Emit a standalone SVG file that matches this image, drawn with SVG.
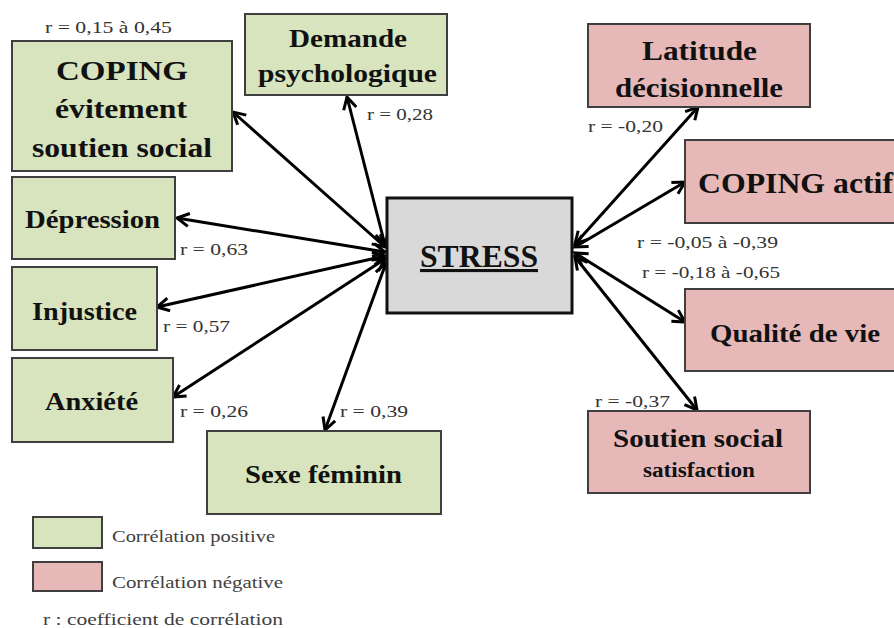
<svg xmlns="http://www.w3.org/2000/svg" width="894" height="628" viewBox="0 0 894 628">
<style>
.pos{fill:#d7e4bd;stroke:#3f3f3f;stroke-width:2}
.neg{fill:#e6b9b8;stroke:#3f3f3f;stroke-width:2}
.ctr{fill:#d9d9d9;stroke:#111;stroke-width:3}
.nt{font-family:"Liberation Serif","Times New Roman",serif;font-weight:bold;fill:#111}
.lb{font-family:"Liberation Serif","Times New Roman",serif;font-size:17px;fill:#333}
.lg{font-family:"Liberation Serif","Times New Roman",serif;font-size:17px;fill:#404040}
.cn{stroke:#000;stroke-width:3;fill:none;marker-start:url(#ah);marker-end:url(#ah)}
</style>
<defs>
<marker id="ah" markerUnits="userSpaceOnUse" markerWidth="16" markerHeight="16" viewBox="0 0 16 16" refX="13" refY="8" orient="auto-start-reverse">
<path d="M1,1.5 L13,8 L1,14.5" fill="none" stroke="#000" stroke-width="3"/>
</marker>
</defs>
<rect width="894" height="628" fill="#fff"/>

<g id="connectors">
<line class="cn" x1="385" y1="247" x2="233" y2="112"/>
<line class="cn" x1="385" y1="245" x2="347" y2="97"/>
<line class="cn" x1="385" y1="252" x2="177" y2="218"/>
<line class="cn" x1="385" y1="256" x2="157" y2="307"/>
<line class="cn" x1="385" y1="259" x2="173" y2="397"/>
<line class="cn" x1="386" y1="263" x2="325" y2="430"/>
<line class="cn" x1="575" y1="244" x2="698" y2="107"/>
<line class="cn" x1="575" y1="247" x2="685" y2="182"/>
<line class="cn" x1="575" y1="253" x2="685" y2="322"/>
<line class="cn" x1="575" y1="257" x2="697" y2="410"/>
</g>

<g id="stress">
<rect class="ctr" x="387" y="198" width="185" height="115"/>
<text class="nt" x="420" y="267" font-size="31" textLength="118" lengthAdjust="spacingAndGlyphs" text-decoration="underline">STRESS</text>
</g>

<g id="coping-evitement">
<rect class="pos" x="12" y="41" width="220" height="130"/>
<text class="nt" x="56" y="80" font-size="28" textLength="132" lengthAdjust="spacingAndGlyphs">COPING</text>
<text class="nt" x="55" y="118" font-size="28" textLength="132" lengthAdjust="spacingAndGlyphs">évitement</text>
<text class="nt" x="32" y="157" font-size="28" textLength="180" lengthAdjust="spacingAndGlyphs">soutien social</text>
</g>

<g id="demande">
<rect class="pos" x="245" y="14" width="202" height="81"/>
<text class="nt" x="289" y="47" font-size="25" textLength="118" lengthAdjust="spacingAndGlyphs">Demande</text>
<text class="nt" x="258" y="82" font-size="25" textLength="179" lengthAdjust="spacingAndGlyphs">psychologique</text>
</g>

<g id="depression">
<rect class="pos" x="12" y="177" width="163" height="82"/>
<text class="nt" x="25" y="228" font-size="25" textLength="135" lengthAdjust="spacingAndGlyphs">Dépression</text>
</g>

<g id="injustice">
<rect class="pos" x="12" y="267" width="145" height="83"/>
<text class="nt" x="32" y="320" font-size="25" textLength="105" lengthAdjust="spacingAndGlyphs">Injustice</text>
</g>

<g id="anxiete">
<rect class="pos" x="12" y="358" width="161" height="84"/>
<text class="nt" x="45" y="410" font-size="25" textLength="93" lengthAdjust="spacingAndGlyphs">Anxiété</text>
</g>

<g id="sexe-feminin">
<rect class="pos" x="207" y="431" width="234" height="83"/>
<text class="nt" x="245" y="483" font-size="25" textLength="157" lengthAdjust="spacingAndGlyphs">Sexe féminin</text>
</g>

<g id="latitude">
<rect class="neg" x="588" y="24" width="222" height="83"/>
<text class="nt" x="642" y="60" font-size="27" textLength="115" lengthAdjust="spacingAndGlyphs">Latitude</text>
<text class="nt" x="615" y="97" font-size="27" textLength="168" lengthAdjust="spacingAndGlyphs">décisionnelle</text>
</g>

<g id="coping-actif">
<rect class="neg" x="685" y="140" width="222" height="83"/>
<text class="nt" x="698" y="193" font-size="30" textLength="195" lengthAdjust="spacingAndGlyphs">COPING actif</text>
</g>

<g id="qualite-vie">
<rect class="neg" x="685" y="289" width="222" height="82"/>
<text class="nt" x="710" y="342" font-size="26" textLength="170" lengthAdjust="spacingAndGlyphs">Qualité de vie</text>
</g>

<g id="soutien-social">
<rect class="neg" x="588" y="411" width="222" height="82"/>
<text class="nt" x="613" y="447" font-size="26" textLength="170" lengthAdjust="spacingAndGlyphs">Soutien social</text>
<text class="nt" x="643" y="477" font-size="20" textLength="112" lengthAdjust="spacingAndGlyphs">satisfaction</text>
</g>

<g id="labels">
<text class="lb" x="45" y="33" textLength="127" lengthAdjust="spacingAndGlyphs">r = 0,15 à 0,45</text>
<text class="lb" x="367" y="120" textLength="66" lengthAdjust="spacingAndGlyphs">r = 0,28</text>
<text class="lb" x="180" y="255" textLength="68" lengthAdjust="spacingAndGlyphs">r = 0,63</text>
<text class="lb" x="163" y="332" textLength="67" lengthAdjust="spacingAndGlyphs">r = 0,57</text>
<text class="lb" x="180" y="417" textLength="68" lengthAdjust="spacingAndGlyphs">r = 0,26</text>
<text class="lb" x="340" y="417" textLength="68" lengthAdjust="spacingAndGlyphs">r = 0,39</text>
<text class="lb" x="588" y="132" textLength="75" lengthAdjust="spacingAndGlyphs">r = -0,20</text>
<text class="lb" x="637" y="248" textLength="141" lengthAdjust="spacingAndGlyphs">r = -0,05 à -0,39</text>
<text class="lb" x="642" y="278" textLength="138" lengthAdjust="spacingAndGlyphs">r = -0,18 à -0,65</text>
<text class="lb" x="595" y="407" textLength="75" lengthAdjust="spacingAndGlyphs">r = -0,37</text>
</g>

<g id="legend">
<rect class="pos" x="33" y="517" width="69" height="31"/>
<text class="lg" x="112" y="542" textLength="163" lengthAdjust="spacingAndGlyphs">Corrélation positive</text>
<rect class="neg" x="33" y="562" width="69" height="29"/>
<text class="lg" x="112" y="588" textLength="171" lengthAdjust="spacingAndGlyphs">Corrélation négative</text>
<text class="lg" x="43" y="625" textLength="240" lengthAdjust="spacingAndGlyphs">r : coefficient de corrélation</text>
</g>
</svg>
